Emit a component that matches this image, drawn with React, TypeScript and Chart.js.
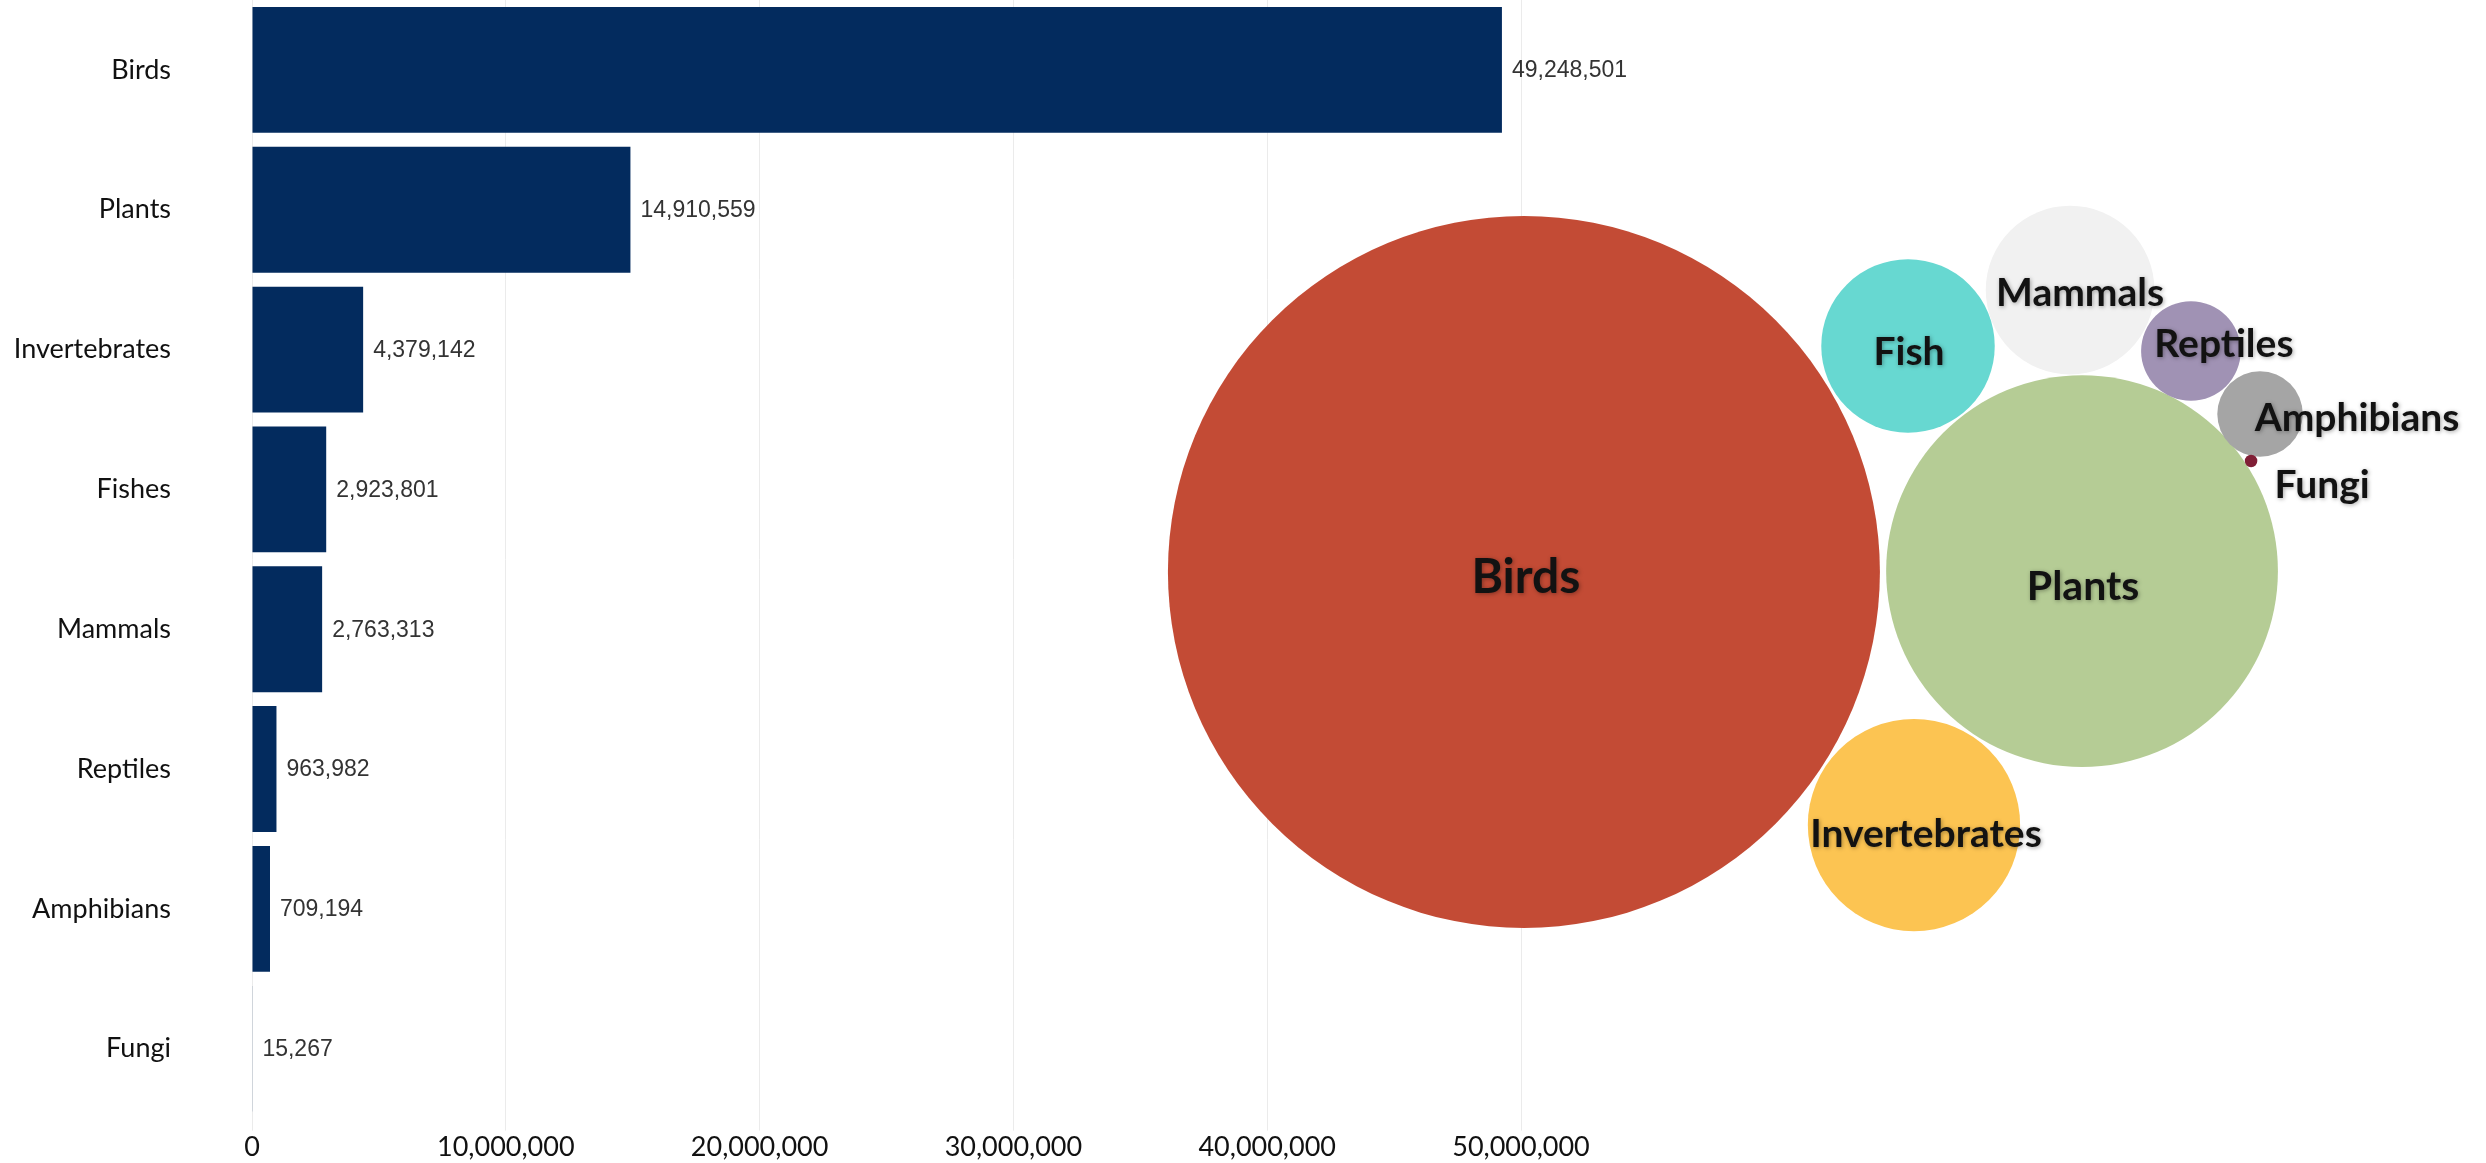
import React, { useEffect, useRef } from "react";
import { Chart, registerables } from "chart.js";

Chart.register(...registerables);

// ---------- data ----------
const categories = ["Birds", "Plants", "Invertebrates", "Fishes", "Mammals", "Reptiles", "Amphibians", "Fungi"];
const counts = [49248501, 14910559, 4379142, 2923801, 2763313, 963982, 709194, 15267];
const xTickValues = [0, 10000000, 20000000, 30000000, 40000000, 50000000];

// bubble cluster (same values as the bars, area-proportional)
const bubbleLabels = ["Birds", "Plants", "Invertebrates", "Fish", "Mammals", "Reptiles", "Amphibians", "Fungi"];
const bubbleX = [61.3, 83.75, 76.99, 76.75, 83.27, 88.13, 90.91, 90.55]; // layout units (0-100)
const bubbleY = [49.18, 49.1, 70.94, 29.75, 24.94, 30.18, 35.6, 39.64]; // layout units (0-100)

// ---------- styles ----------
const W = 2486;
const H = 1163;
const BAR_COLOR = "#032b5e";
const GRID_COLOR = "#ebebeb";
const bubbleColors = ["#c34b35", "#b5cc95", "#fcc452", "#67d8d1", "#f1f1f1", "#a092b4", "#a5a5a5", "#801f36"];
const BUBBLE_MAX_R = 356;
const bubbleLabelSize = [48, 41, 39, 39, 39, 39, 39, 39];
const bubbleLabelDx = [2, 1, 12, 1, 10, 33, 97, 71];
const bubbleLabelDy = [4, 14, 8, 5, 2, -8, 3, 23];

const fmt = (v: number) => Number(v).toLocaleString("en-US");

const valueLabelPlugin = {
  id: "valueLabels",
  afterDatasetsDraw(chart: any) {
    const ctx = chart.ctx;
    const meta = chart.getDatasetMeta(0);
    ctx.save();
    ctx.font = '23px "Liberation Sans", Arial, sans-serif';
    ctx.fillStyle = "#333333";
    ctx.textBaseline = "middle";
    ctx.textAlign = "left";
    meta.data.forEach((bar: any, i: number) => {
      ctx.fillText(fmt(counts[i]), bar.x + 10, bar.y + 1);
    });
    ctx.restore();
  },
};

const bubbleLabelPlugin = {
  id: "bubbleLabels",
  afterDatasetsDraw(chart: any) {
    const ctx = chart.ctx;
    const meta = chart.getDatasetMeta(0);
    ctx.save();
    ctx.textAlign = "center";
    ctx.textBaseline = "alphabetic";
    meta.data.forEach((pt: any, i: number) => {
      const size = bubbleLabelSize[i];
      ctx.font = `bold ${size}px Lato, "Open Sans", sans-serif`;
      ctx.shadowColor = "rgba(0,0,0,0.35)";
      ctx.shadowBlur = 4;
      ctx.shadowOffsetX = 1;
      ctx.shadowOffsetY = 1;
      ctx.fillStyle = "#121212";
      const cap = size * 0.7165;
      ctx.fillText(bubbleLabels[i], pt.x + bubbleLabelDx[i], pt.y + bubbleLabelDy[i] + cap / 2);
    });
    ctx.restore();
  },
};

export default function App() {
  const barRef = useRef<HTMLCanvasElement | null>(null);
  const bubbleRef = useRef<HTMLCanvasElement | null>(null);

  useEffect(() => {
    if (!barRef.current || !bubbleRef.current) return;
    const maxVal = Math.max(...counts);

    const barChart = new Chart(barRef.current, {
      type: "bar",
      data: {
        labels: categories,
        datasets: [
          {
            data: counts,
            backgroundColor: BAR_COLOR,
            borderWidth: 0,
            barPercentage: 0.9,
            categoryPercentage: 1.0,
          },
        ],
      },
      options: {
        indexAxis: "y",
        animation: false,
        responsive: false,
        layout: { autoPadding: false, padding: { left: 0, right: 965, top: 0, bottom: 0 } },
        plugins: { legend: { display: false }, tooltip: { enabled: false } },
        scales: {
          x: {
            type: "linear",
            min: xTickValues[0],
            max: xTickValues[xTickValues.length - 1],
            afterBuildTicks: (scale: any) => {
              scale.ticks = xTickValues.map((v) => ({ value: v }));
            },
            ticks: {
              callback: (v: any) => fmt(v),
              font: { family: "Lato", size: 27 },
              color: "#111111",
              padding: 0,
              maxRotation: 0,
            },
            grid: { color: GRID_COLOR, lineWidth: 1, tickLength: 12, drawTicks: true },
            border: { display: false },
          },
          y: {
            ticks: { font: { family: "Lato", size: 27 }, color: "#111111", padding: 81 },
            grid: { display: false, drawTicks: false },
            border: { display: false },
            afterFit: (scale: any) => {
              scale.width = 252;
              scale.paddingTop = 0;
              scale.paddingBottom = 0;
            },
          },
        },
      } as any,
      plugins: [valueLabelPlugin],
    });

    const bubbleChart = new Chart(bubbleRef.current, {
      type: "bubble",
      data: {
        datasets: [
          {
            data: bubbleX.map((x, i) => ({
              x,
              y: bubbleY[i],
              r: BUBBLE_MAX_R * Math.sqrt(counts[i] / maxVal),
            })),
            backgroundColor: bubbleColors,
            borderWidth: 0,
            hoverRadius: 0,
            clip: false,
          } as any,
        ],
      },
      options: {
        animation: false,
        responsive: false,
        layout: { autoPadding: false, padding: 0 },
        plugins: { legend: { display: false }, tooltip: { enabled: false } },
        scales: {
          x: { type: "linear", min: 0, max: 100, display: false },
          y: { type: "linear", min: 0, max: 100, reverse: true, display: false },
        },
      } as any,
      plugins: [bubbleLabelPlugin],
    });

    return () => {
      barChart.destroy();
      bubbleChart.destroy();
    };
  }, []);

  return (
    <div style={{ position: "fixed", left: 0, top: 0, width: W, height: H, background: "#ffffff" }}>
      <canvas ref={barRef} width={W} height={H} style={{ position: "absolute", left: 0, top: 0, width: W, height: H }} />
      <canvas
        ref={bubbleRef}
        width={W}
        height={H}
        style={{ position: "absolute", left: 0, top: 0, width: W, height: H, pointerEvents: "none" }}
      />
    </div>
  );
}
